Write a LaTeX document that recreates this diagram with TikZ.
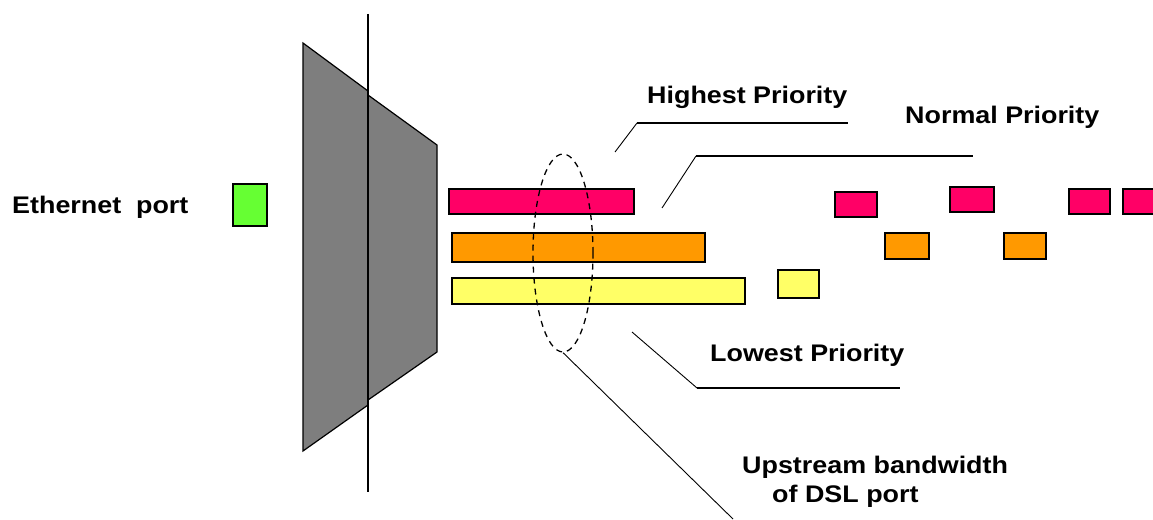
\documentclass[tikz,border=0pt]{standalone}
\usepackage{fontspec}
\setmainfont{Liberation Sans}[FakeStretch=1.12]
\usetikzlibrary{shapes.geometric}
\definecolor{pred}{HTML}{FF0066}
\definecolor{porange}{HTML}{FF9900}
\definecolor{pyellow}{HTML}{FFFF66}
\definecolor{pgreen}{HTML}{66FF33}
\definecolor{pgray}{HTML}{7E7E7E}
\tikzset{
  bar/.style={draw=black, line width=1.6pt, anchor=north west, inner sep=0pt},
  lab/.style={font=\fontsize{24}{29}\selectfont\bfseries, inner sep=0pt},
  leader/.style={line width=1.6pt},
  diag/.style={line width=0.9pt},
}
\begin{document}
\begin{tikzpicture}[x=1pt,y=-1pt]
\useasboundingbox (0,0) rectangle (1153,519);
% gray shape
\fill[pgray, draw=black, line width=1.2pt] (303,43) -- (368,91) -- (368,405) -- (303,451) -- cycle;
\fill[pgray, draw=black, line width=1.2pt] (368,95) -- (437,145) -- (437,352) -- (368,400) -- cycle;
\coordinate (vt) at (368,14);
\coordinate (vb) at (368,492);
\draw[line width=1.6pt] (vt) -- (vb);
% ethernet port
\node[bar, fill=pgreen, minimum width=34pt, minimum height=42pt] (eth) at (232,183) {};
\node[lab, anchor=west] (ethl) at (12,207) {Ethernet\ \ port};
% long bars
\node[bar, fill=pred, minimum width=185pt, minimum height=25pt] (r0) at (448,188) {};
\node[bar, fill=porange, minimum width=253pt, minimum height=29pt] (o0) at (451,232) {};
\node[bar, fill=pyellow, minimum width=293pt, minimum height=26pt] (y0) at (451,277) {};
% small packets
\node[bar, fill=pyellow, minimum width=41pt, minimum height=28pt] (y1) at (777,269) {};
\node[bar, fill=pred, minimum width=42pt, minimum height=25pt] (r1) at (834,191) {};
\node[bar, fill=pred, minimum width=44pt, minimum height=25pt] (r2) at (949,186) {};
\node[bar, fill=pred, minimum width=41pt, minimum height=25pt] (r3) at (1068,188) {};
\node[bar, fill=pred, minimum width=40pt, minimum height=25pt] (r4) at (1122,188) {};
\node[bar, fill=porange, minimum width=44pt, minimum height=26pt] (o1) at (884,232) {};
\node[bar, fill=porange, minimum width=42pt, minimum height=26pt] (o2) at (1003,232) {};
% ellipse
\node[ellipse, draw=black, dashed, line width=1.3pt, minimum width=60pt, minimum height=198pt, inner sep=0pt, dash pattern=on 6pt off 5pt] (ell) at (563,253) {};
% labels
\node[lab, anchor=west] (hl) at (647,97) {Highest Priority};
\node[lab, anchor=west] (nl) at (905,117) {Normal Priority};
\node[lab, anchor=west] (ll) at (710,355) {Lowest Priority};
\node[lab, align=left, anchor=west] (ul) at (742,482) {Upstream bandwidth\\\hspace*{30pt}of DSL port};
% leaders
\coordinate (h1) at (615,152); \coordinate (h2) at (637,123); \coordinate (h3) at (848,123);
\draw[diag] (h1) -- (h2); \draw[leader] (h2) -- (h3);
\coordinate (n1) at (662,208); \coordinate (n2) at (696,156); \coordinate (n3) at (973,156);
\draw[diag] (n1) -- (n2); \draw[leader] (n2) -- (n3);
\coordinate (l1) at (632,332); \coordinate (l2) at (697,388); \coordinate (l3) at (900,388);
\draw[diag] (l1) -- (l2); \draw[leader] (l2) -- (l3);
\coordinate (u2) at (733,519);
\draw[diag] (ell.south) -- (u2);
\end{tikzpicture}
\end{document}
